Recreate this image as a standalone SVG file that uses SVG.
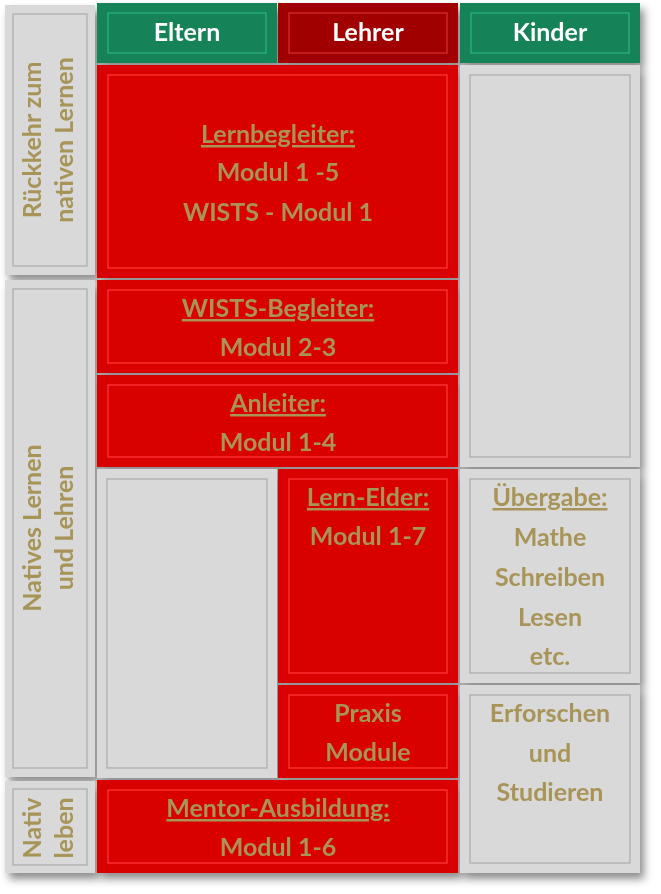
<svg xmlns="http://www.w3.org/2000/svg" width="661" height="894" viewBox="0 0 661 894">
<defs>
<style>
.r{fill:#d90000}.g{fill:#d9d9d9}.gr{fill:#128259}.dr{fill:#a00000}
.in{fill:none;stroke-width:1.2}
.r+.in{stroke:#ff3b3b}
.t{font-family:Lato,"Open Sans",sans-serif;font-weight:bold;font-size:25px;fill:#a89457;text-anchor:middle}
.h{font-family:Lato,"Open Sans",sans-serif;font-weight:bold;font-size:25px;fill:#fff;text-anchor:middle}
.u{text-decoration:underline}
.hl{fill:none;stroke:#ffffff;stroke-opacity:.55;stroke-width:4}
.sh{fill:none;stroke:#000;stroke-opacity:.35;stroke-width:4}
</style>
<filter id="ds" x="-5%" y="-5%" width="115%" height="115%"><feDropShadow dx="4" dy="6" stdDeviation="4" flood-opacity=".45"/></filter>
</defs>
<g filter="url(#ds)">
<g id="n-rueckkehr"><rect class="g" x="5" y="5" width="90" height="270"/><rect class="in" stroke="#aaa" x="13" y="14" width="74" height="252"/>
<text class="t" transform="translate(41,140) rotate(-90)">Rückkehr zum</text><text class="t" transform="translate(73,140) rotate(-90)">nativen Lernen</text></g>
<g id="n-natives"><rect class="g" x="5" y="280" width="90" height="497"/><rect class="in" stroke="#aaa" x="13" y="289" width="74" height="479"/>
<text class="t" transform="translate(41,528) rotate(-90)">Natives Lernen</text><text class="t" transform="translate(73,528) rotate(-90)">und Lehren</text></g>
<g id="n-nativ"><rect class="g" x="5" y="781" width="90" height="92"/><rect class="in" stroke="#aaa" x="13" y="789" width="74" height="76"/>
<text class="t" transform="translate(41,828) rotate(-90)">Nativ</text><text class="t" transform="translate(73,828) rotate(-90)">leben</text></g>
<g id="h-eltern"><rect class="gr" x="97" y="3" width="180" height="60"/><rect class="in" stroke="#2fb585" x="108" y="13" width="158" height="40"/><text class="h" x="187" y="41">Eltern</text></g>
<g id="h-lehrer"><rect class="dr" x="278" y="3" width="180" height="60"/><rect class="in" stroke="#d33" x="289" y="13" width="158" height="40"/><text class="h" x="368" y="41">Lehrer</text></g>
<g id="h-kinder"><rect class="gr" x="460" y="3" width="180" height="60"/><rect class="in" stroke="#2fb585" x="471" y="13" width="158" height="40"/><text class="h" x="550" y="41">Kinder</text></g>
<g id="n-lernbegleiter"><rect class="r" x="97" y="65" width="361" height="213"/><rect class="in" stroke="#ff4a4a" x="108" y="75" width="339" height="193"/>
<text class="t u" x="278" y="143">Lernbegleiter:</text><text class="t" x="278" y="181">Modul 1 -5</text><text class="t" x="278" y="221">WISTS - Modul 1</text></g>
<g id="n-wists"><rect class="r" x="97" y="280" width="361" height="93"/><rect class="in" stroke="#ff4a4a" x="108" y="290" width="339" height="73"/>
<text class="t u" x="278" y="317">WISTS-Begleiter:</text><text class="t" x="278" y="356">Modul 2-3</text></g>
<g id="n-anleiter"><rect class="r" x="97" y="375" width="361" height="92"/><rect class="in" stroke="#ff4a4a" x="108" y="385" width="339" height="72"/>
<text class="t u" x="278" y="412">Anleiter:</text><text class="t" x="278" y="451">Modul 1-4</text></g>
<g id="n-eltern-leer"><rect class="g" x="97" y="469" width="180" height="309"/><rect class="in" stroke="#aaa" x="107" y="479" width="160" height="289"/></g>
<g id="n-lernelder"><rect class="r" x="278" y="469" width="180" height="214"/><rect class="in" stroke="#ff4a4a" x="289" y="479" width="158" height="194"/>
<text class="t u" x="368" y="506">Lern-Elder:</text><text class="t" x="368" y="545">Modul 1-7</text></g>
<g id="n-praxis"><rect class="r" x="278" y="685" width="180" height="93"/><rect class="in" stroke="#ff4a4a" x="289" y="695" width="158" height="73"/>
<text class="t" x="368" y="722">Praxis</text><text class="t" x="368" y="761">Module</text></g>
<g id="n-mentor"><rect class="r" x="97" y="780" width="361" height="93"/><rect class="in" stroke="#ff4a4a" x="108" y="790" width="339" height="73"/>
<text class="t u" x="278" y="817">Mentor-Ausbildung:</text><text class="t" x="278" y="856">Modul 1-6</text></g>
<g id="n-kinder-leer"><rect class="g" x="460" y="65" width="180" height="402"/><rect class="in" stroke="#aaa" x="470" y="75" width="160" height="382"/></g>
<g id="n-uebergabe"><rect class="g" x="460" y="469" width="180" height="214"/><rect class="in" stroke="#aaa" x="470" y="479" width="160" height="194"/>
<text class="t u" x="550" y="506">Übergabe:</text><text class="t" x="550" y="546">Mathe</text><text class="t" x="550" y="586">Schreiben</text><text class="t" x="550" y="626">Lesen</text><text class="t" x="550" y="665">etc.</text></g>
<g id="n-erforschen"><rect class="g" x="460" y="685" width="180" height="188"/><rect class="in" stroke="#aaa" x="470" y="695" width="160" height="168"/>
<text class="t" x="550" y="722">Erforschen</text><text class="t" x="550" y="762">und</text><text class="t" x="550" y="801">Studieren</text></g>
</g>
<g id="connectors"/>
</svg>
